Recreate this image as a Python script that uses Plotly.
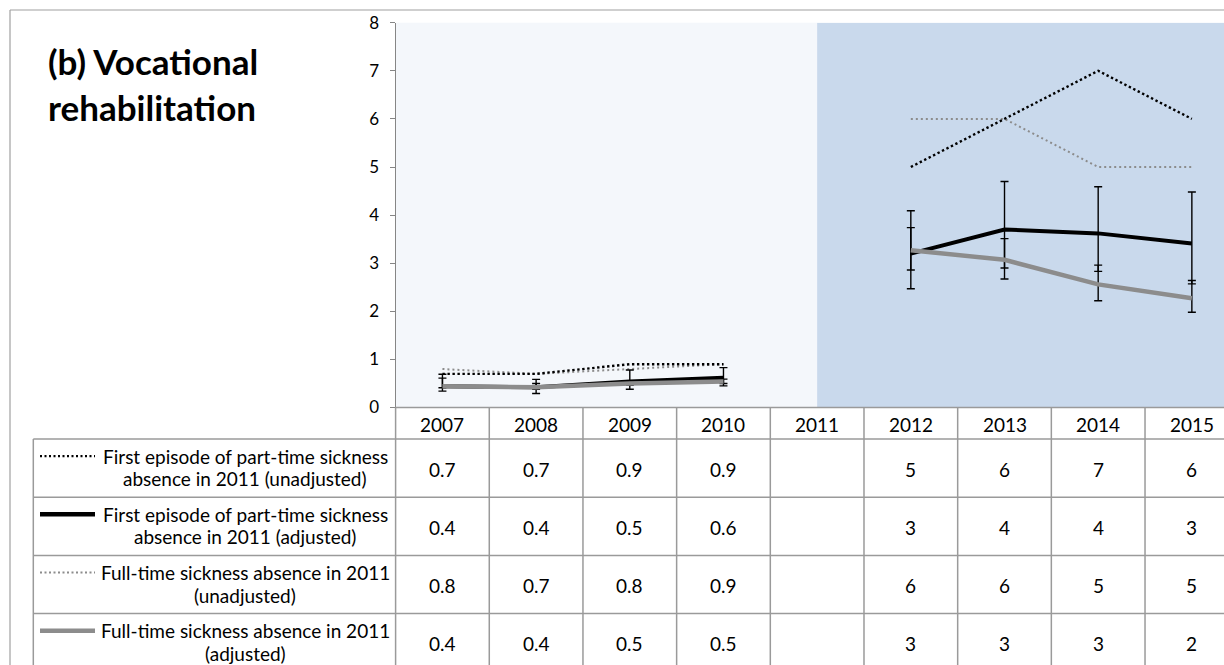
import plotly.graph_objects as go

# ---- data -------------------------------------------------------------
years = [2007, 2008, 2009, 2010, 2011, 2012, 2013, 2014, 2015]

pt_unadj = [0.7, 0.7, 0.9, 0.9, None, 5, 6, 7, 6]
pt_adj = [0.44, 0.42, 0.54, 0.62, None, 3.2, 3.7, 3.62, 3.41]
pt_adj_lo = [0.34, 0.29, 0.38, 0.45, None, 2.47, 2.90, 2.83, 2.57]
pt_adj_hi = [0.69, 0.585, 0.78, 0.83, None, 4.09, 4.70, 4.59, 4.48]

ft_unadj = [0.8, 0.7, 0.8, 0.9, None, 6, 6, 5, 5]
ft_adj = [0.44, 0.42, 0.50, 0.54, None, 3.27, 3.07, 2.56, 2.27]
ft_adj_lo = [0.41, 0.38, 0.46, 0.50, None, 2.86, 2.67, 2.22, 1.98]
ft_adj_hi = [0.61, 0.50, 0.55, 0.59, None, 3.74, 3.51, 2.96, 2.64]

series_labels = [
    ("First episode of part-time sickness", "absence in 2011 (unadjusted)"),
    ("First episode of part-time sickness", "absence in 2011 (adjusted)"),
    ("Full-time sickness absence in 2011", "(unadjusted)"),
    ("Full-time sickness absence in 2011", "(adjusted)"),
]
title_text = "<b>(b) Vocational<br>rehabilitation</b>"

# ---- page geometry (pixels) ------------------------------------------
W, H = 1224, 665
PLOT_L, PLOT_T, PLOT_B = 395.6, 22.7, 407.5
HEAD_B = 439.0
ROW_H = 58.2
LEG_L = 33.3
LEG_TEXT_X = 245
FONT = "Lato"
GRID = "#9a9a9a"
BLACK = "#000000"
GREY = "#8c8c8c"
LIGHT_BG = "#f4f7fb"
DARK_BG = "#c9d9ec"
TXT = 19


def px(x):
    return x / W


def py(y):
    return 1 - y / H


def err(vals, lo, hi):
    plus = [None if v is None else h - v for v, h in zip(vals, hi)]
    minus = [None if v is None else v - l for v, l in zip(vals, lo)]
    return dict(type="data", symmetric=False, array=plus, arrayminus=minus,
                color=BLACK, thickness=1.4, width=4)


def fmt(v):
    if v is None:
        return ""
    if v < 1:
        return f"{v:.1f}"
    return str(int(v + 0.5))


fig = go.Figure()

fig.add_trace(go.Scatter(x=years, y=ft_unadj, mode="lines",
                         line=dict(color=GREY, width=2, dash="2px,3px"),
                         connectgaps=False))
fig.add_trace(go.Scatter(x=years, y=pt_unadj, mode="lines",
                         line=dict(color=BLACK, width=2.4, dash="2.4px,2.6px"),
                         connectgaps=False))
fig.add_trace(go.Scatter(x=years, y=pt_adj, mode="lines",
                         line=dict(color=BLACK, width=4),
                         error_y=err(pt_adj, pt_adj_lo, pt_adj_hi),
                         connectgaps=False))
fig.add_trace(go.Scatter(x=years, y=ft_adj, mode="lines",
                         line=dict(color=GREY, width=4.5),
                         error_y=err(ft_adj, ft_adj_lo, ft_adj_hi),
                         connectgaps=False))

x_right = 2006.5 + (W - PLOT_L) / ((1238.7 - PLOT_L) / 9)

shapes = []
# darker shading from 2011 onwards
shapes.append(dict(type="rect", xref="x", yref="y", x0=2011, x1=2016,
                   y0=0, y1=8, fillcolor=DARK_BG, line_width=0, layer="below"))

# outer frame of the chart
shapes.append(dict(type="line", xref="paper", yref="paper", x0=px(10), x1=1,
                   y0=py(10), y1=py(10), line=dict(color="#a0a0a0", width=1.2)))
shapes.append(dict(type="line", xref="paper", yref="paper", x0=px(10), x1=px(10),
                   y0=py(10), y1=0, line=dict(color="#a0a0a0", width=1.2)))

# data table grid
shapes.append(dict(type="line", xref="paper", yref="paper", x0=px(PLOT_L), x1=1,
                   y0=py(PLOT_B), y1=py(PLOT_B), line=dict(color=GRID, width=1.5)))
row_tops = [HEAD_B + i * ROW_H for i in range(4)]
for yy in row_tops:
    shapes.append(dict(type="line", xref="paper", yref="paper", x0=px(LEG_L), x1=1,
                       y0=py(yy), y1=py(yy), line=dict(color=GRID, width=1.5)))
shapes.append(dict(type="line", xref="paper", yref="paper", x0=px(LEG_L), x1=px(LEG_L),
                   y0=py(HEAD_B), y1=0, line=dict(color=GRID, width=1.5)))
shapes.append(dict(type="line", xref="paper", yref="paper", x0=px(PLOT_L), x1=px(PLOT_L),
                   y0=py(PLOT_B), y1=0, line=dict(color=GRID, width=1.5)))
for yr in years[:-1]:
    shapes.append(dict(type="line", xref="x", yref="paper", x0=yr + 0.5, x1=yr + 0.5,
                       y0=py(PLOT_B), y1=0, line=dict(color=GRID, width=1.5)))

annotations = []
annotations.append(dict(text=title_text, xref="paper", yref="paper", x=px(46), y=py(38),
                        xanchor="left", yanchor="top", align="left", showarrow=False,
                        font=dict(family=FONT, size=35, color=BLACK)))

# header row with years
for yr in years:
    annotations.append(dict(text=str(yr), xref="x", yref="paper", x=yr,
                            y=py((PLOT_B + HEAD_B) / 2 + 1), showarrow=False,
                            xanchor="center", yanchor="middle",
                            font=dict(family=FONT, size=TXT, color=BLACK)))

# legend keys and value cells
key_styles = [
    dict(color=BLACK, width=2.2, dash="2px,2.5px"),
    dict(color=BLACK, width=4.5),
    dict(color=GREY, width=1.8, dash="2px,2.5px"),
    dict(color=GREY, width=4.5),
]
table_rows = [pt_unadj, pt_adj, ft_unadj, ft_adj]
for i, (vals, (l1, l2), style) in enumerate(zip(table_rows, series_labels, key_styles)):
    top = row_tops[i]
    mid = top + ROW_H / 2
    y1, y2 = mid - 12, mid + 10.5
    shapes.append(dict(type="line", xref="paper", yref="paper", x0=px(40), x1=px(95),
                       y0=py(y1), y1=py(y1), line=style))
    annotations.append(dict(text=l1, xref="paper", yref="paper", x=px(LEG_TEXT_X), y=py(y1),
                            xanchor="center", yanchor="middle", showarrow=False,
                            font=dict(family=FONT, size=TXT, color=BLACK)))
    annotations.append(dict(text=l2, xref="paper", yref="paper", x=px(LEG_TEXT_X), y=py(y2),
                            xanchor="center", yanchor="middle", showarrow=False,
                            font=dict(family=FONT, size=TXT, color=BLACK)))
    for yr, v in zip(years, vals):
        if v is None:
            continue
        annotations.append(dict(text=fmt(v), xref="x", yref="paper", x=yr, y=py(mid + 1),
                                xanchor="center", yanchor="middle", showarrow=False,
                                font=dict(family=FONT, size=TXT, color=BLACK)))

fig.update_layout(
    width=W, height=H,
    margin=dict(l=0, r=0, t=0, b=0, pad=0, autoexpand=False),
    paper_bgcolor="white",
    plot_bgcolor=LIGHT_BG,
    showlegend=False,
    shapes=shapes,
    annotations=annotations,
    xaxis=dict(domain=[px(PLOT_L), 1], range=[2006.5, x_right], showticklabels=False,
               showgrid=False, zeroline=False, showline=False, ticks="",
               automargin=False),
    yaxis=dict(domain=[py(PLOT_B), py(PLOT_T)], range=[0, 8], dtick=1, showgrid=False,
               zeroline=False, showline=True, linecolor="#868686", linewidth=1.2,
               ticks="outside", ticklen=5, tickcolor="#868686", ticklabelstandoff=7,
               automargin=False,
               tickfont=dict(family=FONT, size=17, color=BLACK)),
)

fig.write_html("out.html")
